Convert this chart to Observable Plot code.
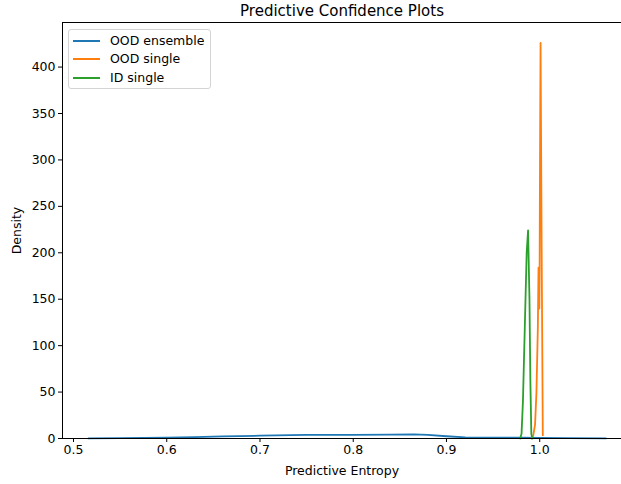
<!DOCTYPE html>
<html><head><meta charset="utf-8">
<script src="https://cdn.jsdelivr.net/npm/d3@7"></script>
<script src="https://cdn.jsdelivr.net/npm/@observablehq/plot@0.6"></script>
<style>
body{margin:0;background:#fff;font-family:"DejaVu Sans",sans-serif;}
#wrap{position:relative;width:621px;height:484px;overflow:hidden;}
.legend{position:absolute;left:68px;top:29px;width:141px;height:58px;border:1px solid #d4d4d4;border-radius:3px;background:rgba(255,255,255,0.85);font-size:12.5px;color:#000;}
.row{position:absolute;left:0;height:16px;line-height:16px;white-space:nowrap;}
.sw{position:absolute;left:4px;top:7px;width:27px;height:0;border-top:2px solid;}
.lab{position:absolute;left:41px;top:0;}
</style></head>
<body><div id="wrap"></div>
<script>
const seriesNames = ["OOD ensemble", "OOD single", "ID single"];
const seriesColors = ["#1f77b4", "#ff7f0e", "#2ca02c"];

const oodEnsembleX = [0.516, 0.55, 0.6, 0.63, 0.66, 0.7, 0.75, 0.8, 0.84, 0.865, 0.88, 0.9, 0.92, 0.95, 0.98, 1.0, 1.03, 1.071];
const oodEnsembleY = [0.1, 0.3, 0.8, 1.5, 2.3, 3.0, 3.8, 4.0, 4.1, 4.5, 3.9, 2.4, 1.2, 0.8, 0.8, 0.7, 0.4, 0.1];

const oodSingleX = [0.991, 0.993, 0.995, 0.9965, 0.998, 0.9987, 0.9990, 0.9993, 0.9996, 0.9999, 1.0003, 1.0009, 1.0021, 1.0033];
const oodSingleY = [0, 3, 15, 50, 120, 184, 140, 184, 140, 184, 300, 426, 200, 3.5];

const idSingleX = [0.979, 0.9805, 0.982, 0.984, 0.986, 0.9875, 0.989, 0.990, 0.991, 0.992];
const idSingleY = [0, 5, 40, 120, 200, 224, 150, 60, 5, 0];

const xTicks = [0.5, 0.6, 0.7, 0.8, 0.9, 1.0];
const yTicks = [0, 50, 100, 150, 200, 250, 300, 350, 400];
const title = "Predictive Confidence Plots";

const rows = [];
[[oodEnsembleX, oodEnsembleY], [oodSingleX, oodSingleY], [idSingleX, idSingleY]].forEach(([xs, ys], i) => {
  xs.forEach((x, j) => rows.push({series: seriesNames[i], x, y: ys[j]}));
});

const chart = Plot.plot({
  width: 621, height: 484,
  marginTop: 22, marginBottom: 46, marginLeft: 62, marginRight: 0,
  style: {fontFamily: '"DejaVu Sans", sans-serif', fontSize: "12.5px", color: "#000", background: "#fff", overflow: "visible"},
  x: {domain: [0.4882, 1.0877]},
  y: {domain: [0, 448]},
  color: {domain: seriesNames, range: seriesColors},
  marks: [
    Plot.line(rows, {x: "x", y: "y", z: "series", stroke: "series", strokeWidth: 1.8}),
    Plot.frame({anchor: "left", stroke: "#000", strokeWidth: 1}),
    Plot.frame({anchor: "top", stroke: "#000", strokeWidth: 1}),
    Plot.frame({anchor: "bottom", stroke: "#000", strokeWidth: 1}),
    Plot.axisX({ticks: xTicks, tickFormat: ".1f", tickSize: 4, tickPadding: 3, label: "Predictive Entropy", labelAnchor: "center", labelArrow: "none", labelOffset: 36}),
    Plot.axisY({ticks: yTicks, tickFormat: "d", tickSize: 4, tickPadding: 3, label: "Density", labelAnchor: "center", labelArrow: "none", labelOffset: 50}),
    Plot.text([title], {frameAnchor: "top", dy: -11, text: d => d, fontSize: 15, lineAnchor: "middle"})
  ]
});
const wrap = document.getElementById("wrap");
wrap.appendChild(chart);

const leg = document.createElement("div");
leg.className = "legend";
seriesNames.forEach((name, i) => {
  const r = document.createElement("div");
  r.className = "row";
  r.style.top = (3 + i * 18.3) + "px";
  const sw = document.createElement("div");
  sw.className = "sw";
  sw.style.borderColor = seriesColors[i];
  const lb = document.createElement("div");
  lb.className = "lab";
  lb.textContent = name;
  r.appendChild(sw); r.appendChild(lb);
  leg.appendChild(r);
});
wrap.appendChild(leg);
</script></body></html>
